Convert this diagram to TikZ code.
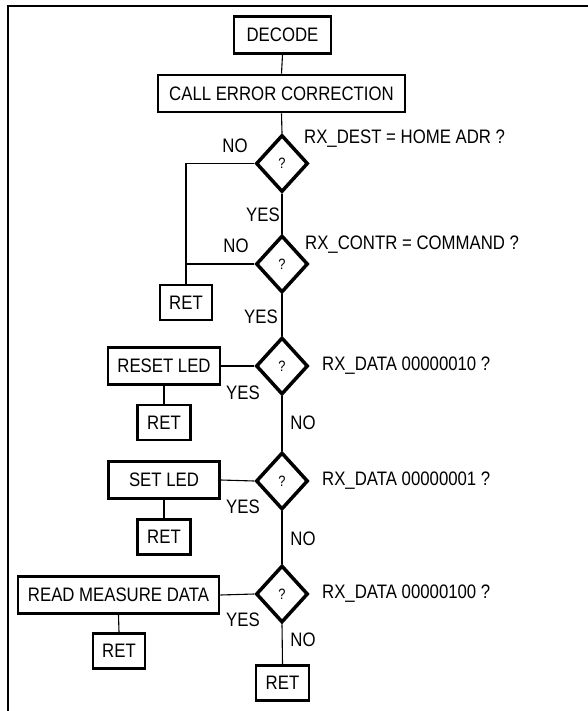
\documentclass[tikz,border=0pt]{standalone}
\usepackage{fontspec}
\setmainfont{Liberation Sans}[FakeStretch=0.86]
\usetikzlibrary{shapes.geometric}
\begin{document}
\begin{tikzpicture}[x=1pt,y=1pt,
  every node/.style={font=\fontsize{19.5}{21}\selectfont},
  box/.style={draw, line width=2.7pt, inner sep=0pt, minimum height=37pt},
  dia/.style={diamond, draw, line width=3.5pt, inner sep=0pt, minimum width=52pt, minimum height=57pt, font=\fontsize{15}{16}\selectfont},
  lbl/.style={inner sep=0pt},
  conn/.style={line width=1.1pt}]
\useasboundingbox (0,0) rectangle (588,-711);
\draw[line width=2.2pt] (8,-711) -- (8,-6) -- (588,-6);
% nodes
\node[box, minimum width=97pt] (dec) at (282.5,-35) {DECODE};
\node[box, minimum width=247pt] (cec) at (281.5,-93.5) {CALL ERROR CORRECTION};
\node[dia] (d1) at (282,-163.5) {?};
\node[dia] (d2) at (282,-264) {?};
\node[dia] (d3) at (282,-366) {?};
\node[dia] (d4) at (282,-481) {?};
\node[dia] (d5) at (282,-594) {?};
\node[box, minimum width=52pt, minimum height=35pt] (r1) at (186,-302.5) {RET};
\node[box, minimum width=112pt] (reset) at (164,-366) {RESET LED};
\node[box, minimum width=53pt, minimum height=35pt] (r2) at (164,-422.5) {RET};
\node[box, minimum width=111pt] (setl) at (164,-480) {SET LED};
\node[box, minimum width=53pt, minimum height=35pt] (r3) at (164,-537) {RET};
\node[box, minimum width=201pt] (read) at (118.5,-595) {READ MEASURE DATA};
\node[box, minimum width=52pt, minimum height=35pt] (r4) at (119,-651) {RET};
\node[box, minimum width=53pt, minimum height=35pt] (r5) at (282.5,-683) {RET};
% labels
\node[lbl, anchor=west] (q1) at (304,-139) {RX\_DEST = HOME ADR ?};
\node[lbl, anchor=west] (q2) at (305,-245) {RX\_CONTR = COMMAND ?};
\node[lbl, anchor=west] (q3) at (322,-366) {RX\_DATA 00000010 ?};
\node[lbl, anchor=west] (q4) at (322,-481) {RX\_DATA 00000001 ?};
\node[lbl, anchor=west] (q5) at (322,-594) {RX\_DATA 00000100 ?};
\node[lbl] (n1) at (235,-146) {NO};
\node[lbl] (y1) at (263,-215) {YES};
\node[lbl] (n2) at (236,-246) {NO};
\node[lbl] (y2) at (261,-317) {YES};
\node[lbl] (y3) at (243,-393) {YES};
\node[lbl] (n3) at (303,-423) {NO};
\node[lbl] (y4) at (243,-507) {YES};
\node[lbl] (n4) at (303,-539) {NO};
\node[lbl] (y5) at (243,-620) {YES};
\node[lbl] (n5) at (303,-640) {NO};
% connectors
\draw[conn] (dec.south) -- (cec.north);
\draw[conn] (cec.south) -- (d1.north);
\draw[conn] (d1.south) -- (d2.north);
\draw[conn] (d2.south) -- (d3.north);
\draw[conn] (d3.south) -- (d4.north);
\draw[conn] (d4.south) -- (d5.north);
\draw[conn] (d5.south) -- (r5.north);
\draw[conn] (d1.west) -| (r1.north);
\coordinate (j2) at (r1.north |- d2.west);
\draw[conn] (d2.west) -- (j2);
\draw[conn] (d3.west) -- (reset.east);
\draw[conn] (reset.south) -- (r2.north);
\draw[conn] (d4.west) -- (setl.east);
\draw[conn] (setl.south) -- (r3.north);
\draw[conn] (d5.west) -- (read.east);
\draw[conn] (read.south) -- (r4.north);
\end{tikzpicture}
\end{document}
